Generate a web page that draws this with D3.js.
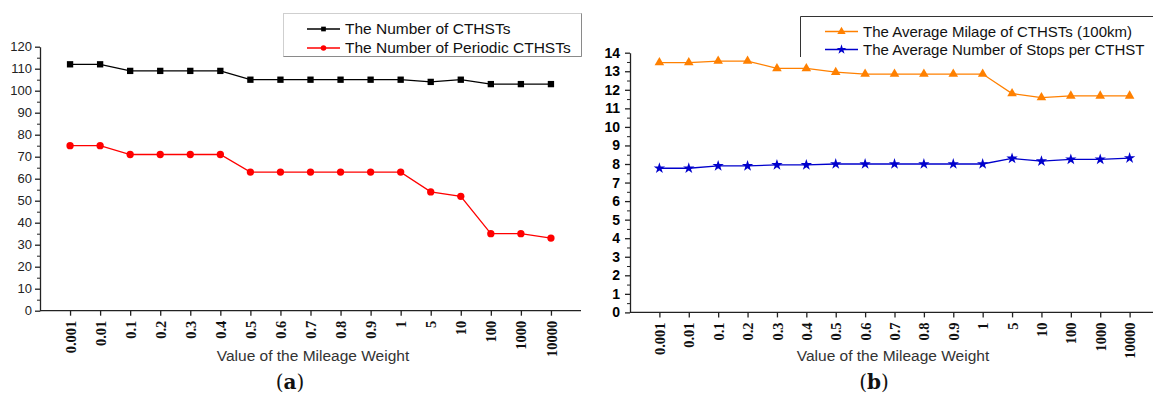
<!DOCTYPE html>
<html>
<head>
<meta charset="utf-8">
<script src="https://cdn.jsdelivr.net/npm/d3@7"></script>
<style>
	body { margin: 0; background: #ffffff; }
	svg { display: block; }
	.label-a text { font-family: "Liberation Sans", Arial, sans-serif; font-size: 13px; fill: #222; }
	.label-b text { font-family: "Liberation Sans", Arial, sans-serif; font-size: 14px; font-weight: bold; fill: #000; }
	.xaxis text { font-family: "Liberation Serif", "Times New Roman", serif; font-size: 14.5px; font-weight: bold; fill: #111; }
</style>
</head>
<body>
<div id="chart"></div>
<script>
//###########################################################################
//#                              Data                                       #
//###########################################################################

var weightLabels = ["0.001","0.01","0.1","0.2","0.3","0.4","0.5","0.6","0.7","0.8","0.9","1","5","10","100","1000","10000"];

//Panel (a)
var numberCTHSTs   = [112,112,109,109,109,109,105,105,105,105,105,105,104,105,103,103,103];
var numberPeriodic = [75,75,71,71,71,71,63,63,63,63,63,63,54,52,35,35,33];
var yTicksA = [0,10,20,30,40,50,60,70,80,90,100,110,120];
var legendA = ["The Number of CTHSTs","The Number of Periodic CTHSTs"];

//Panel (b)
var avgMilage = [13.47,13.47,13.55,13.55,13.15,13.15,12.95,12.85,12.85,12.85,12.85,12.85,11.8,11.58,11.67,11.67,11.67];
var avgStops  = [7.77,7.77,7.9,7.9,7.95,7.95,8.0,8.0,8.0,8.0,8.0,8.0,8.3,8.15,8.25,8.25,8.32];
var yTicksB = [0,1,2,3,4,5,6,7,8,9,10,11,12,13,14];
var legendB = ["The Average Milage of CTHSTs (100km)","The Average Number of Stops per CTHST"];

var xTitle = "Value of the Mileage Weight";

//###########################################################################
//#                              Drawing                                    #
//###########################################################################

var width = 1153;
var height = 399;

var svg = d3.select("#chart")
			.append("svg")
			.attr("width",width)
			.attr("height",height);

function zipSeries(values){
	return values.map(function(v,i) { return {key: weightLabels[i], value: v}; });
}

//Draw the x axis with rotated serif labels
function drawXAxis(g,xscale,y0){
	var xaxis = d3.axisBottom().scale(xscale).tickSize(5).tickSizeOuter(0);
	var ax = g.append("g").attr("class","xaxis").attr("transform","translate(0,"+y0+")").call(xaxis);
	ax.select(".domain").attr("stroke","#222").attr("stroke-width",1.3);
	ax.selectAll(".tick line").attr("stroke","#222").attr("stroke-width",1.3);
	ax.selectAll(".tick text")
		.attr("transform","rotate(-90)")
		.attr("x",-10)
		.attr("y",0)
		.attr("dy","0.35em")
		.style("text-anchor","end");
	//stretch the line to the full range
	var r = xscale.range();
	ax.select(".domain").attr("d","M"+r[0]+",0H"+r[1]);
}

function drawYAxis(g,yscale,x0,ticks,minorTicks,cls,padding){
	var minor = d3.axisLeft().scale(yscale).tickValues(minorTicks).tickSize(3).tickSizeOuter(0).tickFormat("");
	var m = g.append("g").attr("transform","translate("+x0+",0)").call(minor);
	m.select(".domain").remove();
	m.selectAll(".tick line").attr("stroke","#222");

	var yaxis = d3.axisLeft().scale(yscale).tickValues(ticks).tickSize(5).tickSizeOuter(0).tickPadding(padding);
	var ax = g.append("g").attr("class","yaxis "+cls).attr("transform","translate("+x0+",0)").call(yaxis);
	ax.select(".domain").attr("stroke","#222").attr("stroke-width",1.3);
	ax.selectAll(".tick line").attr("stroke","#222").attr("stroke-width",1.3);
}

function drawLine(g,data,xscale,yscale,color){
	var line = d3.line()
		.x(function(d) { return xscale(d.key); })
		.y(function(d) { return yscale(d.value); });
	g.append("path")
		.datum(data)
		.attr("fill","none")
		.attr("stroke",color)
		.attr("stroke-width",1.3)
		.attr("d",line);
}

function drawSymbols(g,data,xscale,yscale,color,symbolType,size){
	var sym = d3.symbol().type(symbolType).size(size);
	g.selectAll(null)
		.data(data)
		.enter().append("path")
			.attr("d",sym)
			.attr("fill",color)
			.attr("transform",function(d) { return "translate("+xscale(d.key)+","+yscale(d.value)+")"; });
}

function drawTitles(g,cx,title,lx,letter){
	g.append("text")
		.attr("x",cx)
		.attr("y",361)
		.attr("text-anchor","middle")
		.style("font-family","'Liberation Sans', Arial, sans-serif")
		.style("font-size","15.5px")
		.style("fill","#333")
		.text(title);
	var t = g.append("text")
		.attr("x",lx)
		.attr("y",389)
		.attr("text-anchor","middle")
		.style("font-family","'DejaVu Serif', 'Liberation Serif', serif")
		.style("font-size","20px")
		.style("fill","#111");
	t.append("tspan").text("(");
	t.append("tspan").style("font-weight","bold").text(letter);
	t.append("tspan").text(")");
}

function legendEntry(g,x,y,color,symbolType,size,label,fontSize){
	g.append("line")
		.attr("x1",x).attr("x2",x+33)
		.attr("y1",y).attr("y2",y)
		.attr("stroke",color).attr("stroke-width",1.3);
	g.append("path")
		.attr("d",d3.symbol().type(symbolType).size(size))
		.attr("fill",color)
		.attr("transform","translate("+(x+16.5)+","+y+")");
	g.append("text")
		.attr("x",x+38)
		.attr("y",y)
		.attr("dy","0.35em")
		.style("font-family","'Liberation Sans', Arial, sans-serif")
		.style("font-size",fontSize)
		.style("fill","#111")
		.text(label);
}

//######################## Panel (a) ########################################

var gA = svg.append("g");
var xscaleA = d3.scalePoint().domain(weightLabels).range([40,581]).padding(1);
var yscaleA = d3.scaleLinear().domain([0,120]).range([310.7,46.7]);

drawYAxis(gA,yscaleA,40,yTicksA,d3.range(5,120,10),"label-a",3);
drawXAxis(gA,xscaleA,310.7);

drawLine(gA,zipSeries(numberCTHSTs),xscaleA,yscaleA,"#000000");
drawLine(gA,zipSeries(numberPeriodic),xscaleA,yscaleA,"#ff0000");
drawSymbols(gA,zipSeries(numberCTHSTs),xscaleA,yscaleA,"#000000",d3.symbolSquare,40);
drawSymbols(gA,zipSeries(numberPeriodic),xscaleA,yscaleA,"#ff0000",d3.symbolCircle,42);

//legend box
gA.append("rect")
	.attr("x",283.5).attr("y",13.5)
	.attr("width",298).attr("height",43)
	.attr("fill","#ffffff")
	.attr("stroke","#cfcfcf");
gA.append("path")
	.attr("d","M283.5,56.5H581.5V13.5")
	.attr("fill","none")
	.attr("stroke","#8a8a8a");
legendEntry(gA,307,29,"#000000",d3.symbolSquare,22,legendA[0],"15.5px");
legendEntry(gA,307,48,"#ff0000",d3.symbolCircle,24,legendA[1],"15.5px");

drawTitles(gA,313,xTitle,290,"a");

//######################## Panel (b) ########################################

var gB = svg.append("g");
var xscaleB = d3.scalePoint().domain(weightLabels).range([630,1159]).padding(1);
var yscaleB = d3.scaleLinear().domain([0,14]).range([312.4,52.7]);

drawYAxis(gB,yscaleB,630,yTicksB,d3.range(0.5,14,1),"label-b",5);
drawXAxis(gB,xscaleB,312.4);

drawLine(gB,zipSeries(avgMilage),xscaleB,yscaleB,"#ff8000");
drawLine(gB,zipSeries(avgStops),xscaleB,yscaleB,"#0000cc");
drawSymbols(gB,zipSeries(avgMilage),xscaleB,yscaleB,"#ff8000",d3.symbolTriangle,40);
drawSymbols(gB,zipSeries(avgStops),xscaleB,yscaleB,"#0000cc",d3.symbolStar,40);

//legend box (runs off the right edge)
gB.append("rect")
	.attr("x",800.5).attr("y",16.5)
	.attr("width",360).attr("height",40)
	.attr("fill","#ffffff")
	.attr("stroke","none");
gB.append("path")
	.attr("d","M800.5,57V16.5H1153")
	.attr("fill","none")
	.attr("stroke","#333");
legendEntry(gB,825,31.5,"#ff8000",d3.symbolTriangle,30,legendB[0],"15px");
legendEntry(gB,825,49.5,"#0000cc",d3.symbolStar,30,legendB[1],"15px");

drawTitles(gB,893,xTitle,874,"b");
</script>
</body>
</html>
